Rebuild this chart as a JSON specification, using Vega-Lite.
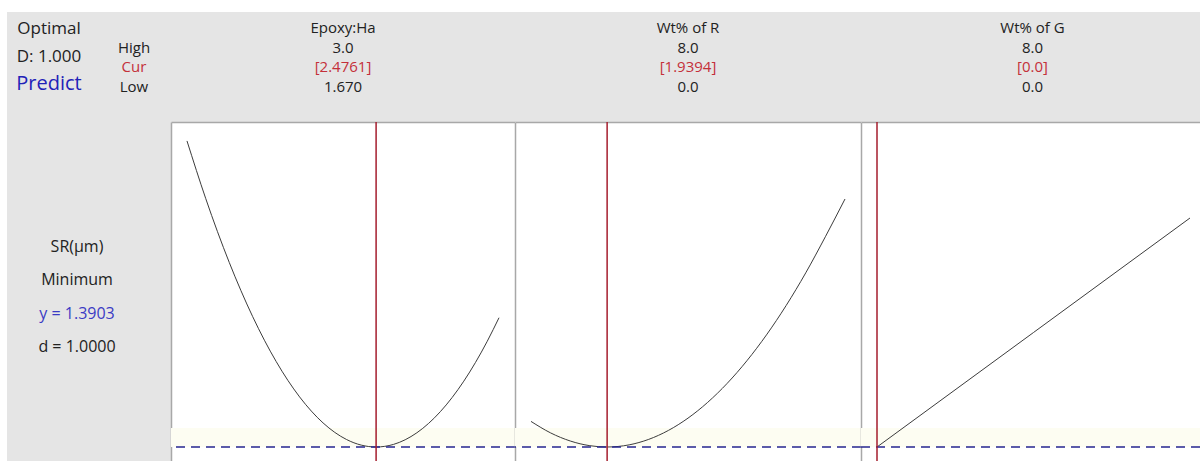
{
  "$schema": "https://vega.github.io/schema/vega-lite/v6.json",
  "background": "white",
  "padding": {"left": 7, "top": 12, "right": 0, "bottom": 0},
  "columns": 5,
  "spacing": 0,
  "align": "each",
  "bounds": "flush",
  "resolve": {"scale": {"x": "independent", "y": "independent", "color": "independent"}},
  "config": {
    "view": {"stroke": null},
    "font": "Open Sans",
    "text": {"font": "Open Sans", "fontSize": 15, "color": "#222222"},
    "axis": {"zindex": 1}
  },
  "datasets": {
    "headers": [
      {"factor": "Epoxy:Ha", "row": "name", "text": "Epoxy:Ha", "kind": "plain"},
      {"factor": "Epoxy:Ha", "row": "High", "text": "3.0", "kind": "plain"},
      {"factor": "Epoxy:Ha", "row": "Cur", "text": "[2.4761]", "kind": "current"},
      {"factor": "Epoxy:Ha", "row": "Low", "text": "1.670", "kind": "plain"},
      {"factor": "Wt% of R", "row": "name", "text": "Wt% of R", "kind": "plain"},
      {"factor": "Wt% of R", "row": "High", "text": "8.0", "kind": "plain"},
      {"factor": "Wt% of R", "row": "Cur", "text": "[1.9394]", "kind": "current"},
      {"factor": "Wt% of R", "row": "Low", "text": "0.0", "kind": "plain"},
      {"factor": "Wt% of G", "row": "name", "text": "Wt% of G", "kind": "plain"},
      {"factor": "Wt% of G", "row": "High", "text": "8.0", "kind": "plain"},
      {"factor": "Wt% of G", "row": "Cur", "text": "[0.0]", "kind": "current"},
      {"factor": "Wt% of G", "row": "Low", "text": "0.0", "kind": "plain"}
    ],
    "levels": [
      {"row": "High", "text": "High", "kind": "plain"},
      {"row": "Cur", "text": "Cur", "kind": "current"},
      {"row": "Low", "text": "Low", "kind": "plain"}
    ],
    "optimal": [
      {"row": "a", "text": "Optimal", "kind": "plain"},
      {"row": "b", "text": "D: 1.000", "kind": "plain"},
      {"row": "c", "text": "Predict", "kind": "link"}
    ],
    "summary": [
      {"row": "a", "text": "SR(µm)", "kind": "plain"},
      {"row": "b", "text": "Minimum", "kind": "plain"},
      {"row": "c", "text": "y = 1.3903", "kind": "fit"},
      {"row": "d", "text": "d = 1.0000", "kind": "plain"}
    ],
    "settings": [
      {"factor": "Epoxy:Ha", "cur": 2.4761},
      {"factor": "Wt% of R", "cur": 1.9394},
      {"factor": "Wt% of G", "cur": 0.0}
    ],
    "response": [{"response": "SR(µm)", "y": 1.3903, "near": 1.58}],
    "curves": [
      {"factor": "Epoxy:Ha", "x": 1.67, "y": 4.4509},
      {"factor": "Epoxy:Ha", "x": 1.75, "y": 3.8735},
      {"factor": "Epoxy:Ha", "x": 1.85, "y": 3.2366},
      {"factor": "Epoxy:Ha", "x": 1.95, "y": 2.6939},
      {"factor": "Epoxy:Ha", "x": 2.05, "y": 2.2455},
      {"factor": "Epoxy:Ha", "x": 2.15, "y": 1.8912},
      {"factor": "Epoxy:Ha", "x": 2.25, "y": 1.6311},
      {"factor": "Epoxy:Ha", "x": 2.35, "y": 1.4652},
      {"factor": "Epoxy:Ha", "x": 2.4761, "y": 1.3903},
      {"factor": "Epoxy:Ha", "x": 2.55, "y": 1.416},
      {"factor": "Epoxy:Ha", "x": 2.65, "y": 1.5327},
      {"factor": "Epoxy:Ha", "x": 2.75, "y": 1.7437},
      {"factor": "Epoxy:Ha", "x": 2.85, "y": 2.0488},
      {"factor": "Epoxy:Ha", "x": 2.95, "y": 2.4481},
      {"factor": "Epoxy:Ha", "x": 3.0, "y": 2.6831},
      {"factor": "Wt% of R", "x": 0.0, "y": 1.6461},
      {"factor": "Wt% of R", "x": 0.5, "y": 1.5312},
      {"factor": "Wt% of R", "x": 1.0, "y": 1.4503},
      {"factor": "Wt% of R", "x": 1.5, "y": 1.4034},
      {"factor": "Wt% of R", "x": 1.9394, "y": 1.3903},
      {"factor": "Wt% of R", "x": 2.5, "y": 1.4117},
      {"factor": "Wt% of R", "x": 3.0, "y": 1.4668},
      {"factor": "Wt% of R", "x": 3.5, "y": 1.5559},
      {"factor": "Wt% of R", "x": 4.0, "y": 1.679},
      {"factor": "Wt% of R", "x": 4.5, "y": 1.8362},
      {"factor": "Wt% of R", "x": 5.0, "y": 2.0273},
      {"factor": "Wt% of R", "x": 5.5, "y": 2.2524},
      {"factor": "Wt% of R", "x": 6.0, "y": 2.5115},
      {"factor": "Wt% of R", "x": 6.5, "y": 2.8046},
      {"factor": "Wt% of R", "x": 7.0, "y": 3.1318},
      {"factor": "Wt% of R", "x": 7.5, "y": 3.4929},
      {"factor": "Wt% of R", "x": 8.0, "y": 3.87},
      {"factor": "Wt% of G", "x": 0.0, "y": 1.3903},
      {"factor": "Wt% of G", "x": 4.0, "y": 2.5353},
      {"factor": "Wt% of G", "x": 8.0, "y": 3.6803}
    ]
  },
  "concat": [
    {
      "width": 90, "height": 110,
      "view": {"fill": "#e5e5e5", "stroke": null},
      "data": {"name": "optimal"},
      "layer": [
        {
          "transform": [{"filter": "datum.kind === 'plain'"}],
          "mark": {"type": "text", "fontSize": 17, "color": "#222222", "dx": -3},
          "encoding": {
            "y": {"field": "row", "type": "ordinal", "scale": {"type": "point", "domain": ["a", "b", "c"], "range": [17, 72], "padding": 0}, "axis": null},
            "text": {"field": "text"}
          }
        },
        {
          "transform": [{"filter": "datum.kind === 'link'"}],
          "mark": {"type": "text", "fontSize": 20, "color": "#1f22b8", "dx": -3},
          "encoding": {
            "y": {"field": "row", "type": "ordinal", "scale": {"type": "point", "domain": ["a", "b", "c"], "range": [17, 72], "padding": 0}, "axis": null},
            "text": {"field": "text"}
          }
        }
      ]
    },
    {
      "width": 74, "height": 110,
      "view": {"fill": "#e5e5e5", "stroke": null},
      "data": {"name": "levels"},
      "mark": {"type": "text", "fontSize": 15},
      "encoding": {
        "y": {"field": "row", "type": "ordinal", "scale": {"type": "point", "domain": ["name", "High", "Cur", "Low"], "range": [16, 75], "padding": 0}, "axis": null},
        "text": {"field": "text"},
        "color": {"field": "kind", "type": "nominal", "scale": {"domain": ["plain", "current"], "range": ["#222222", "#c4303a"]}, "legend": null}
      }
    },
    {
      "width": 344, "height": 110,
      "view": {"fill": "#e5e5e5", "stroke": null},
      "data": {"name": "headers"},
      "transform": [{"filter": "datum.factor === 'Epoxy:Ha'"}],
      "mark": {"type": "text", "fontSize": 15},
      "encoding": {
        "y": {"field": "row", "type": "ordinal", "scale": {"type": "point", "domain": ["name", "High", "Cur", "Low"], "range": [16, 75], "padding": 0}, "axis": null},
        "text": {"field": "text"},
        "color": {"field": "kind", "type": "nominal", "scale": {"domain": ["plain", "current"], "range": ["#222222", "#c4303a"]}, "legend": null}
      }
    },
    {
      "width": 346, "height": 110,
      "view": {"fill": "#e5e5e5", "stroke": null},
      "data": {"name": "headers"},
      "transform": [{"filter": "datum.factor === 'Wt% of R'"}],
      "mark": {"type": "text", "fontSize": 15},
      "encoding": {
        "y": {"field": "row", "type": "ordinal", "scale": {"type": "point", "domain": ["name", "High", "Cur", "Low"], "range": [16, 75], "padding": 0}, "axis": null},
        "text": {"field": "text"},
        "color": {"field": "kind", "type": "nominal", "scale": {"domain": ["plain", "current"], "range": ["#222222", "#c4303a"]}, "legend": null}
      }
    },
    {
      "width": 339, "height": 110,
      "view": {"fill": "#e5e5e5", "stroke": null},
      "data": {"name": "headers"},
      "transform": [{"filter": "datum.factor === 'Wt% of G'"}],
      "mark": {"type": "text", "fontSize": 15, "dx": 2},
      "encoding": {
        "y": {"field": "row", "type": "ordinal", "scale": {"type": "point", "domain": ["name", "High", "Cur", "Low"], "range": [16, 75], "padding": 0}, "axis": null},
        "text": {"field": "text"},
        "color": {"field": "kind", "type": "nominal", "scale": {"domain": ["plain", "current"], "range": ["#222222", "#c4303a"]}, "legend": null}
      }
    },
    {
      "width": 90, "height": 339,
      "view": {"fill": "#e5e5e5", "stroke": null},
      "data": {"values": [{}]},
      "mark": {"type": "text", "text": ""},
      "encoding": {}
    },
    {
      "width": 74, "height": 339,
      "view": {"fill": "#e5e5e5", "stroke": null},
      "data": {"name": "summary"},
      "mark": {"type": "text", "fontSize": 16, "dx": -57},
      "encoding": {
        "y": {"field": "row", "type": "ordinal", "scale": {"type": "point", "domain": ["a", "b", "c", "d"], "range": [125, 225], "padding": 0}, "axis": null},
        "text": {"field": "text"},
        "color": {"field": "kind", "type": "nominal", "scale": {"domain": ["plain", "fit"], "range": ["#222222", "#3b3bc4"]}, "legend": null}
      }
    },
    {
      "width": 344, "height": 339,
      "view": {"fill": "white", "stroke": null},
      "layer": [
        {
          "data": {"name": "response"},
          "mark": {"type": "rect", "color": "#fdfdf2"},
          "encoding": {
            "y": {"field": "y", "type": "quantitative", "scale": {"domain": [1.2503, 4.6403], "nice": false, "zero": false},
                  "axis": {"orient": "left", "labels": false, "ticks": false, "grid": false, "title": null, "domainColor": "#a8a8a8", "domainWidth": 1.5}},
            "y2": {"field": "near"}
          }
        },
        {
          "data": {"name": "curves"},
          "transform": [{"filter": "datum.factor === 'Epoxy:Ha'"}],
          "mark": {"type": "line", "color": "#3c3c3c", "strokeWidth": 1, "interpolate": "monotone"},
          "encoding": {
            "x": {"field": "x", "type": "quantitative", "scale": {"domain": [1.6018, 3.0682], "nice": false, "zero": false},
                  "axis": {"orient": "top", "labels": false, "ticks": false, "grid": false, "title": null, "domainColor": "#a8a8a8", "domainWidth": 1.5}},
            "y": {"field": "y", "type": "quantitative"}
          }
        },
        {
          "data": {"name": "response"},
          "mark": {"type": "rule", "color": "#262690", "strokeWidth": 1.5, "strokeDash": [9, 6]},
          "encoding": {"y": {"field": "y", "type": "quantitative"}}
        },
        {
          "data": {"name": "settings"},
          "transform": [{"filter": "datum.factor === 'Epoxy:Ha'"}],
          "mark": {"type": "rule", "color": "#a51d2d", "strokeWidth": 1.5},
          "encoding": {"x": {"field": "cur", "type": "quantitative"}}
        }
      ]
    },
    {
      "width": 346, "height": 339,
      "view": {"fill": "white", "stroke": null},
      "layer": [
        {
          "data": {"name": "response"},
          "mark": {"type": "rect", "color": "#fdfdf2"},
          "encoding": {
            "y": {"field": "y", "type": "quantitative", "scale": {"domain": [1.2503, 4.6403], "nice": false, "zero": false},
                  "axis": {"orient": "left", "labels": false, "ticks": false, "grid": false, "title": null, "domainColor": "#a8a8a8", "domainWidth": 1.5}},
            "y2": {"field": "near"}
          }
        },
        {
          "data": {"name": "curves"},
          "transform": [{"filter": "datum.factor === 'Wt% of R'"}],
          "mark": {"type": "line", "color": "#3c3c3c", "strokeWidth": 1, "interpolate": "monotone"},
          "encoding": {
            "x": {"field": "x", "type": "quantitative", "scale": {"domain": [-0.408, 8.408], "nice": false, "zero": false},
                  "axis": {"orient": "top", "labels": false, "ticks": false, "grid": false, "title": null, "domainColor": "#a8a8a8", "domainWidth": 1.5}},
            "y": {"field": "y", "type": "quantitative"}
          }
        },
        {
          "data": {"name": "response"},
          "mark": {"type": "rule", "color": "#262690", "strokeWidth": 1.5, "strokeDash": [9, 6]},
          "encoding": {"y": {"field": "y", "type": "quantitative"}}
        },
        {
          "data": {"name": "settings"},
          "transform": [{"filter": "datum.factor === 'Wt% of R'"}],
          "mark": {"type": "rule", "color": "#a51d2d", "strokeWidth": 1.5},
          "encoding": {"x": {"field": "cur", "type": "quantitative"}}
        }
      ]
    },
    {
      "width": 339, "height": 339,
      "view": {"fill": "white", "stroke": null},
      "layer": [
        {
          "data": {"name": "response"},
          "mark": {"type": "rect", "color": "#fdfdf2"},
          "encoding": {
            "y": {"field": "y", "type": "quantitative", "scale": {"domain": [1.2503, 4.6403], "nice": false, "zero": false},
                  "axis": {"orient": "left", "labels": false, "ticks": false, "grid": false, "title": null, "domainColor": "#a8a8a8", "domainWidth": 1.5}},
            "y2": {"field": "near"}
          }
        },
        {
          "data": {"name": "curves"},
          "transform": [{"filter": "datum.factor === 'Wt% of G'"}],
          "mark": {"type": "line", "color": "#3c3c3c", "strokeWidth": 1},
          "encoding": {
            "x": {"field": "x", "type": "quantitative", "scale": {"domain": [-0.409, 8.256], "nice": false, "zero": false},
                  "axis": {"orient": "top", "labels": false, "ticks": false, "grid": false, "title": null, "domainColor": "#a8a8a8", "domainWidth": 1.5}},
            "y": {"field": "y", "type": "quantitative"}
          }
        },
        {
          "data": {"name": "response"},
          "mark": {"type": "rule", "color": "#262690", "strokeWidth": 1.5, "strokeDash": [9, 6]},
          "encoding": {"y": {"field": "y", "type": "quantitative"}}
        },
        {
          "data": {"name": "settings"},
          "transform": [{"filter": "datum.factor === 'Wt% of G'"}],
          "mark": {"type": "rule", "color": "#a51d2d", "strokeWidth": 1.5},
          "encoding": {"x": {"field": "cur", "type": "quantitative"}}
        }
      ]
    }
  ]
}
